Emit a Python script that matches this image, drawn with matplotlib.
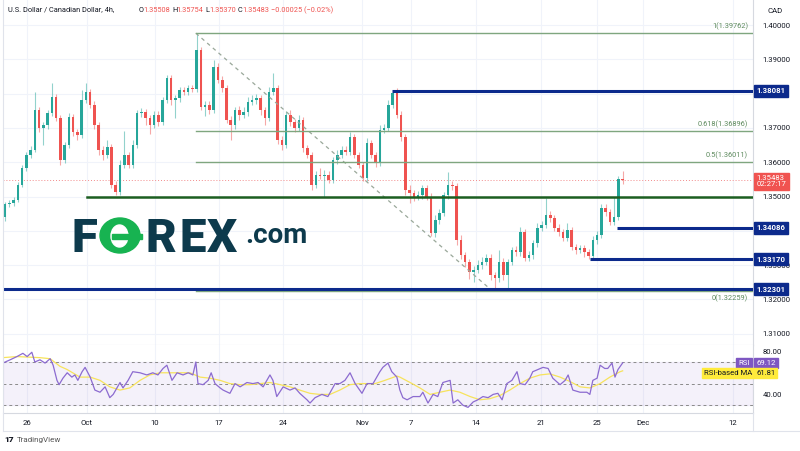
import numpy as np
import matplotlib.pyplot as plt
from matplotlib import transforms
from matplotlib.patches import Ellipse, Rectangle

plt.rcParams['font.family'] = ['Roboto', 'DejaVu Sans']

# USD/CAD candles (8h steps), Sep 22 -> Nov 29 2022
first_open = 1.3440
closes = [1.3478, 1.3481, 1.3490, 1.3534, 1.3583, 1.3621, 1.3636, 1.3752, 1.3700, 1.3708,
          1.3743, 1.3790, 1.3729, 1.3606, 1.3650, 1.3732, 1.3688, 1.3679, 1.3781, 1.3805,
          1.3767, 1.3708, 1.3636, 1.3621, 1.3644, 1.3534, 1.3513, 1.3592, 1.3621, 1.3592,
          1.3650, 1.3743, 1.3746, 1.3729, 1.3708, 1.3738, 1.3717, 1.3781, 1.3845, 1.3781,
          1.3787, 1.3810, 1.3805, 1.3816, 1.3812, 1.3927, 1.3761, 1.3767, 1.3752, 1.3878,
          1.3840, 1.3816, 1.3723, 1.3708, 1.3752, 1.3738, 1.3746, 1.3776, 1.3781, 1.3787,
          1.3752, 1.3729, 1.3805, 1.3816, 1.3665, 1.3650, 1.3738, 1.3717, 1.3700, 1.3723,
          1.3641, 1.3621, 1.3534, 1.3563, 1.3560, 1.3563, 1.3548, 1.3606, 1.3621, 1.3636,
          1.3630, 1.3673, 1.3621, 1.3592, 1.3554, 1.3656, 1.3621, 1.3600, 1.3694, 1.3700,
          1.3767, 1.3802, 1.3738, 1.3673, 1.3519, 1.3510, 1.3499, 1.3504, 1.3525, 1.3499,
          1.3394, 1.3431, 1.3452, 1.3504, 1.3534, 1.3530, 1.3373, 1.3329, 1.3309, 1.3280,
          1.3286, 1.3300, 1.3309, 1.3321, 1.3271, 1.3262, 1.3309, 1.3271, 1.3309, 1.3344,
          1.3338, 1.3396, 1.3321, 1.3329, 1.3364, 1.3408, 1.3417, 1.3446, 1.3437, 1.3408,
          1.3396, 1.3379, 1.3402, 1.3353, 1.3344, 1.3350, 1.3338, 1.3327, 1.3373, 1.3388,
          1.3467, 1.3455, 1.3426, 1.3440, 1.35508, 1.35483]
# wick lengths in pips above / below the body
up_wick = [5, 10, 8, 8, 10, 8, 10, 53, 8, 10,
           8, 40, 8, 8, 10, 12, 10, 10, 30, 25,
           8, 10, 8, 10, 20, 10, 10, 15, 70, 10,
           15, 10, 12, 8, 8, 10, 10, 10, 10, 8,
           10, 10, 10, 10, 10, 49, 10, 10, 12, 20,
           12, 10, 8, 12, 10, 12, 15, 15, 15, 12,
           10, 10, 15, 44, 10, 10, 10, 15, 10, 15,
           8, 10, 10, 12, 20, 15, 10, 10, 15, 10,
           10, 15, 10, 10, 10, 15, 10, 10, 15, 10,
           15, 6, 15, 10, 10, 15, 10, 12, 10, 10,
           10, 15, 12, 10, 37, 10, 10, 15, 10, 10,
           10, 15, 15, 12, 10, 10, 36, 12, 10, 10,
           12, 15, 10, 12, 10, 15, 12, 50, 12, 10,
           12, 10, 22, 8, 10, 10, 10, 8, 12, 12,
           12, 10, 10, 60, 10, 24.6]
dn_wick = [10, 8, 10, 5, 5, 8, 8, 5, 12, 50,
           10, 8, 10, 15, 8, 8, 12, 15, 8, 8,
           10, 10, 15, 15, 8, 10, 10, 8, 8, 10,
           10, 8, 10, 20, 25, 8, 12, 8, 8, 15,
           51, 12, 10, 10, 8, 8, 10, 25, 12, 8,
           10, 10, 10, 43, 10, 15, 10, 10, 10, 10,
           15, 20, 8, 8, 12, 15, 10, 10, 12, 10,
           10, 10, 15, 10, 10, 60, 10, 8, 10, 8,
           10, 10, 10, 10, 10, 10, 10, 15, 10, 10,
           10, 10, 10, 10, 15, 30, 12, 10, 12, 10,
           10, 12, 10, 10, 10, 12, 15, 12, 15, 20,
           29, 10, 12, 10, 15, 36, 10, 15, 41, 10,
           10, 10, 10, 10, 10, 10, 10, 10, 10, 10,
           10, 10, 8, 10, 12, 10, 15, 10, 8, 10,
           8, 12, 10, 10, 8, 11.3]

rsi_bar = [-0.5, 1.2, 2.8, 4.2, 5.2, 6.3, 7.0, 8.2, 9.4, 10.6,
           11.3, 12.2, 12.7, 13.6, 14.6, 15.7, 16.4, 17.1, 18.1, 18.8,
           20.0, 21.1, 22.3, 23.5, 24.6, 25.4, 27.0, 27.7, 28.9, 30.0,
           31.7, 33.3, 34.7, 35.9, 37.1, 38.0, 39.2, 40.4, 41.8, 43.0,
           44.1, 44.8, 45.3, 46.5, 47.7, 48.4, 49.3, 50.5, 51.2, 52.8,
           54.0, 55.2, 56.8, 58.2, 59.4, 60.6, 62.2, 62.9, 63.8, 65.3,
           66.9, 68.1, 69.2, 70.9, 71.6, 72.8, 74.4, 75.8, 77.5, 78.6,
           79.8, 81.0, 82.2, 83.8, 85.0, 86.4, 88.0, 88.7, 89.9, 90.8,
           92.0, 92.7, 93.4, 94.4, 95.8, 97.4, 98.1, 99.3, 100.5, 101.6,
           102.8, 104.5, 105.2, 106.3, 107.5, 108.7, 109.9, 111.0, 112.2, 113.4,
           114.6, 115.7, 116.7, 117.8, 119.0, 120.2, 120.9, 122.1, 123.2, 123.9,
           125.1, 126.3, 127.5, 128.6, 130.3, 131.5, 132.2, 133.3, 135.0, 136.6,
           137.3, 138.0, 139.0, 139.7, 140.8, 141.5, 142.5, 143.2, 143.9, 145.0]
rsi_val = [69, 72, 75, 78, 75, 79, 70, 72, 69, 73,
           67, 53, 49, 55, 60, 56, 58, 53, 61, 65,
           56, 44, 42, 47, 37, 40, 51, 46, 53, 61,
           60, 58, 60, 58, 64, 67, 53, 60, 58, 60,
           58, 70, 50, 49, 53, 60, 50, 46, 44, 41,
           50, 47, 51, 50, 51, 47, 58, 53, 38, 47,
           44, 46, 41, 35, 32, 37, 40, 38, 50, 50,
           53, 60, 50, 41, 50, 50, 61, 65, 69, 61,
           56, 44, 37, 35, 38, 38, 42, 32, 40, 38,
           51, 53, 32, 35, 30, 28, 33, 35, 38, 37,
           40, 41, 35, 50, 53, 61, 50, 49, 55, 61,
           63, 65, 64, 55, 49, 53, 58, 44, 42, 42,
           40, 53, 55, 67, 64, 64, 69, 56, 63, 69.12]
ma_bar = [-0.5, 2.8, 8.2, 10.6, 12.9, 14.6, 17.6, 20.0, 22.3, 24.6,
          27.0, 29.3, 31.7, 34.0, 36.4, 40.4, 43.4, 45.8, 48.1, 50.5,
          52.8, 55.2, 57.5, 59.9, 62.2, 64.6, 66.9, 69.2, 71.6, 73.9,
          76.3, 78.6, 81.0, 83.3, 86.9, 89.2, 92.0, 92.7, 95.1, 97.4,
          99.8, 102.1, 104.5, 106.8, 109.2, 111.5, 113.8, 116.2, 118.5, 120.9,
          123.2, 125.6, 127.9, 130.3, 132.6, 135.0, 137.3, 139.7, 142.0, 144.4, 145.0]
ma_val = [74, 75, 74, 73, 66, 63, 56, 56, 53, 47,
          44, 46, 53, 58, 60, 60, 60, 56, 55, 53,
          50, 49, 49, 50, 51, 49, 47, 44, 41, 40,
          40, 44, 49, 50, 50, 53, 57, 56, 51, 46,
          40, 42, 44, 42, 38, 35, 36, 39, 44, 50,
          55, 58, 59, 56, 52, 47, 46, 50, 56, 61, 61.81]

date_labels = ['26', 'Oct', '10', '17', '24', 'Nov', '7', '14', '21', '25', 'Dec', '12']
date_pos = [5.2, 19.2, 35.2, 50.2, 65.3, 83.8, 95.3, 110.6, 125.8, 139.0, 149.8, 170.9]

price_grid = [1.31, 1.32, 1.33, 1.34, 1.35, 1.36, 1.37, 1.38, 1.39, 1.40]
price_ticks = [1.31, 1.32, 1.33, 1.35, 1.36, 1.37, 1.39, 1.40]

blue_levels = [1.38081, 1.34086, 1.33170, 1.32301]
blue_start = [90.8, 143.7, 137.3, -0.5]
green_level, green_start = 1.3498, 19.3
fib_ratio = ['1', '0.618', '0.5', '0']
fib_price = [1.39762, 1.36896, 1.36011, 1.32259]
fib_start = 44.8
trend_x, trend_y = [44.8, 114.3], [1.39762, 1.32259]
last_price = 1.35483

GREEN, RED = '#26a69a', '#ef5350'
NAVY = '#0c2a8c'
FIB = '#7fa67f'
GRID = '#f0f3fa'
TXT = '#131722'

W, H = 800, 451
fig = plt.figure(figsize=(8, 4.51), dpi=100)
fig.patch.set_facecolor('white')


def fx(px):
    return px / W


def fy(py):
    return 1 - py / H


ax = fig.add_axes([fx(3), fy(345), (753 - 3) / W, 345 / H])
ax2 = fig.add_axes([fx(3), fy(413), (753 - 3) / W, 68 / H], sharex=ax)

# candles
o = np.array([first_open] + closes[:-1])
c = np.array(closes)
x = np.arange(len(c))
hi = np.maximum(o, c) + np.array(up_wick) / 1e4
lo = np.minimum(o, c) - np.array(dn_wick) / 1e4
col = np.where(c >= o, GREEN, RED)
body = np.maximum(np.abs(c - o), 0.00006)
for g in date_pos:
    ax.axvline(g, color=GRID, lw=0.8, zorder=0)
    ax2.axvline(g, color=GRID, lw=0.8, zorder=0)
for g in price_grid:
    ax.axhline(g, color=GRID, lw=0.8, zorder=0)
ax.vlines(x, lo, hi, colors=col, lw=0.8, alpha=0.5, zorder=2)
ax.bar(x, body, bottom=np.minimum(o, c), width=0.6, color=col, zorder=3)

# drawings
xr = 175.6
ax.plot(trend_x, trend_y, color='#9aa89a', lw=0.9, ls=(0, (3, 3)), zorder=4)
for p, r in zip(fib_price, fib_ratio):
    ax.plot([fib_start, xr], [p, p], color=FIB, lw=1.0, zorder=4)
tr = transforms.blended_transform_factory(ax.transAxes, ax.transData)
for p, r in zip(fib_price, fib_ratio):
    if r == '0':
        ax.text(0.9935, p - 0.0011, f'{r}({p:.5f})', transform=tr, ha='right', va='top',
                fontsize=5.3, color='#5d8a5d')
    else:
        ax.text(0.9935, p + 0.0008, f'{r}({p:.5f})', transform=tr, ha='right', va='bottom',
                fontsize=5.3, color='#5d8a5d')
ax.plot([green_start, xr], [green_level, green_level], color='#1b5e20', lw=1.8, zorder=5)
for p, s in zip(blue_levels, blue_start):
    ax.plot([s, xr], [p, p], color=NAVY, lw=2.2, zorder=6, solid_capstyle='butt')
ax.axhline(last_price, color='#f28b8b', lw=0.7, ls=(0, (1, 2)), zorder=1)

ax.set_xlim(-0.47, xr)
ax.set_ylim(1.30671, 1.40729)
ax.yaxis.tick_right()
ax.set_yticks(price_ticks)
ax.set_yticklabels([f'{t:.5f}' for t in price_ticks])
ax.tick_params(axis='y', length=0, pad=7, labelsize=5.6, labelcolor=TXT)
ax.tick_params(axis='x', length=0, labelbottom=False)
for s in ['top', 'left']:
    ax.spines[s].set_visible(False)
for s in ['right', 'bottom']:
    ax.spines[s].set_color('#d6d9e0')
    ax.spines[s].set_linewidth(0.8)

for p in blue_levels:
    ax.text(1.0045, p, f'{p:.5f}', transform=tr, ha='left', va='center', fontsize=5.6,
            color='white', fontweight='bold', zorder=10,
            bbox=dict(boxstyle='square,pad=0.3', fc=NAVY, ec=NAVY))
ax.text(1.0045, last_price - 0.0004, f'{last_price:.5f}\n02:27:17', transform=tr, ha='left',
        va='center', fontsize=5.6, color='white', linespacing=1.05, zorder=10,
        bbox=dict(boxstyle='square,pad=0.3', fc='#f05350', ec='#f05350'))
ax.text(1.02, 1.3985 + 0.0056, 'CAD', transform=tr, ha='left', va='center', fontsize=5.6, color=TXT)

# RSI pane
ax2.axhspan(30, 70, color='#7e57c2', alpha=0.08, zorder=0)
for lv in [70, 50, 30]:
    ax2.axhline(lv, color='#8a8a8a', lw=0.7, ls=(0, (3, 3)), zorder=1)
ax2.plot(ma_bar, ma_val, color='#f7e35c', lw=0.9, zorder=2)
ax2.plot(rsi_bar, rsi_val, color='#8c6bd0', lw=0.9, zorder=3)
ax2.set_ylim(22.8, 85.7)
ax2.yaxis.tick_right()
ax2.set_yticks([80, 40])
ax2.set_yticklabels(['80.00', '40.00'])
ax2.tick_params(axis='y', length=0, pad=7, labelsize=5.6, labelcolor=TXT)
ax2.set_xticks(date_pos)
ax2.set_xticklabels(date_labels)
ax2.tick_params(axis='x', length=0, pad=5, labelsize=5.6, labelcolor=TXT)
for s in ['top', 'left']:
    ax2.spines[s].set_visible(False)
for s in ['right', 'bottom']:
    ax2.spines[s].set_color('#d6d9e0')
    ax2.spines[s].set_linewidth(0.8)
tr2 = transforms.blended_transform_factory(ax2.transAxes, ax2.transData)
ax2.text(1.0045, rsi_val[-1], f'{rsi_val[-1]:.2f}', transform=tr2, ha='left', va='center',
         fontsize=5.6, color='white', zorder=10,
         bbox=dict(boxstyle='square,pad=0.25', fc='#7e57c2', ec='#7e57c2'))
ax2.text(0.9955, rsi_val[-1], 'RSI', transform=tr2, ha='right', va='center',
         fontsize=5.6, color='white', zorder=10,
         bbox=dict(boxstyle='square,pad=0.25', fc='#7e57c2', ec='#7e57c2'))
ax2.text(1.0045, ma_val[-1] - 1.8, f'{ma_val[-1]:.2f}', transform=tr2, ha='left', va='center',
         fontsize=5.6, color=TXT, zorder=10,
         bbox=dict(boxstyle='square,pad=0.25', fc='#ffeb3b', ec='#ffeb3b'))
ax2.text(0.9985, ma_val[-1] - 1.8, 'RSI-based MA', transform=tr2, ha='right', va='center',
         fontsize=5.6, color=TXT, zorder=10,
         bbox=dict(boxstyle='square,pad=0.25', fc='#ffeb3b', ec='#ffeb3b'))

# overlay in pixel units for frame lines and the watermark
lay = fig.add_axes([0, 0, 1, 1])
lay.set_xlim(0, W)
lay.set_ylim(H, 0)
lay.axis('off')
lay.patch.set_alpha(0)
lay.plot([3, 800], [431, 431], color='#e0e3eb', lw=0.8)
lay.plot([3, 3], [0, 431], color='#e0e3eb', lw=0.8)
lay.plot([753, 753], [413, 431], color='#e0e3eb', lw=0.8)

# header
lay.text(8, 10, 'U.S. Dollar / Canadian Dollar, 4h,', fontsize=5.3, color=TXT, va='center')
head = [('O', 139, TXT), ('1.35508', 143.5, RED), ('H', 172, TXT), ('1.35754', 176.5, RED),
        ('L', 205, TXT), ('1.35370', 209, RED), ('C', 238, TXT), ('1.35483', 242.5, RED),
        ('\u22120.00025 (\u22120.02%)', 271, RED)]
for t, px, cl in head:
    lay.text(px, 10, t, fontsize=5.3, color=cl, va='center')

# FOREX.com watermark
DARK = '#0d3a4c'
LOGO_G = '#17b351'
lay.text(71, 252, 'F', fontsize=34, fontweight='black', color=DARK, va='baseline')
lay.add_patch(Ellipse((120, 235.5), 40, 35, color=LOGO_G))
lay.add_patch(Ellipse((119.5, 236), 17, 22, color='white'))
lay.add_patch(Rectangle((112, 234), 30, 5, color=LOGO_G))
for t, px in [('R', 146), ('E', 179), ('X', 207)]:
    lay.text(px, 252, t, fontsize=34, fontweight='black', color=DARK, va='baseline')
lay.text(245, 243, '.com', fontsize=20, fontweight='bold', color=DARK, va='baseline')

# TradingView mark
lay.text(4, 440, '17', fontsize=6, fontweight='black', color=TXT, va='center')
lay.text(17, 440, 'TradingView', fontsize=5.8, color='#555555', va='center')

plt.savefig('out.png', dpi=100)
